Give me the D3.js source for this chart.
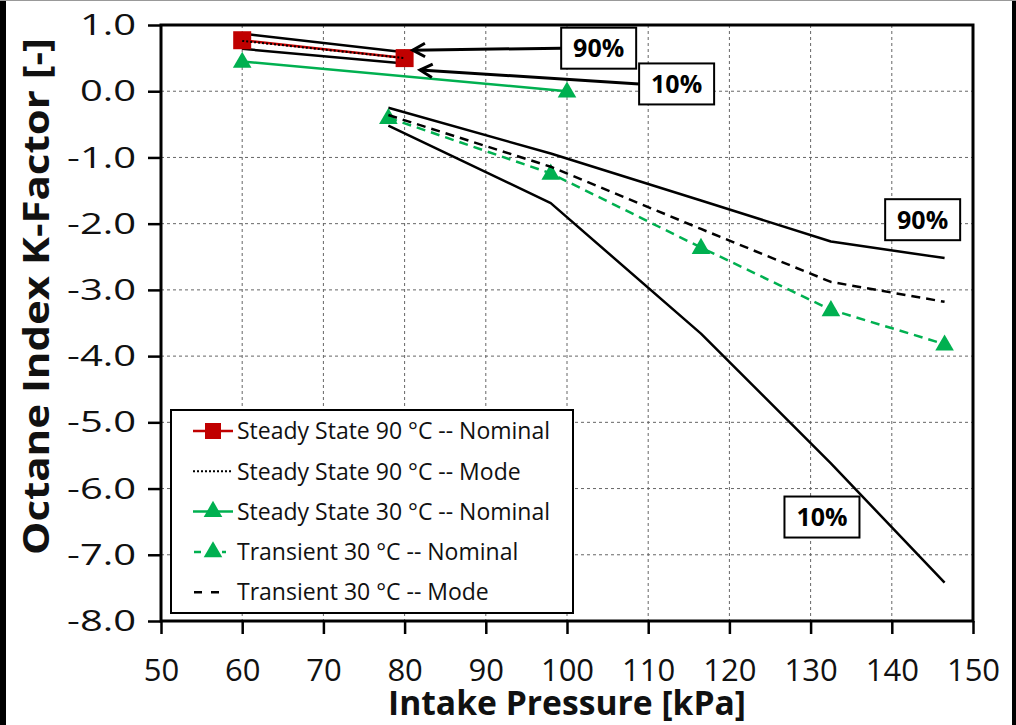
<!DOCTYPE html>
<html><head><meta charset="utf-8">
<script src="https://cdn.jsdelivr.net/npm/d3@7"></script>
<style>body{margin:0;background:#fff;} svg{display:block;}</style>
</head><body><svg id="c" width="1016" height="725"></svg>
<script>
// ---------- data ----------
const xTicks = [50,60,70,80,90,100,110,120,130,140,150];
const yTicks = [1,0,-1,-2,-3,-4,-5,-6,-7,-8];

const ss90Pressure = [60, 80];
const ss90Nominal  = [0.77, 0.50];
const ss90Mode     = [0.76, 0.50];
const ss90P90      = [0.87, 0.59];
const ss90P10      = [0.64, 0.42];

const ss30Pressure = [60, 100];
const ss30Nominal  = [0.45, 0.00];

const trPressure = [78, 98, 116.5, 132.5, 146.5];
const trNominal  = [-0.40, -1.24, -2.36, -3.30, -3.82];
const trMode     = [-0.36, -1.14, -2.08, -2.88, -3.18];
const trP90      = [-0.25, -0.94, -1.65, -2.27, -2.52];
const trP10      = [-0.52, -1.69, -3.66, -5.62, -7.42];

const legendLabels = [
  "Steady State 90 \u00B0C -- Nominal",
  "Steady State 90 \u00B0C -- Mode",
  "Steady State 30 \u00B0C -- Nominal",
  "Transient 30 \u00B0C -- Nominal",
  "Transient 30 \u00B0C -- Mode"
];

const annoLabels = ["90%", "10%", "90%", "10%"];
const annoX      = [103.9, 113.5, 143.8, 131.4];
const annoY      = [0.65, 0.11, -1.94, -6.43];
const arrowTipX  = [81.0, 81.9, null, null];
const arrowTipY  = [0.62, 0.32, null, null];

const xTitle = "Intake Pressure [kPa]";
const yTitle = "Octane Index K-Factor [-]";

// ---------- layout ----------
const RED = "#C00000", GREEN = "#00B050";
const svg = d3.select("#c");
const L = 161, R = 973, T = 25, B = 621;
const x = d3.scaleLinear().domain([50,150]).range([L,R]);
const y = d3.scaleLinear().domain([-8,1]).range([B,T]);

svg.append("rect").attr("width",1016).attr("height",725).attr("fill","#fff");

// grid
const g = svg.append("g");
g.selectAll(".vg").data(xTicks.slice(1,-1)).enter().append("line")
  .attr("x1",d=>x(d)).attr("x2",d=>x(d)).attr("y1",T).attr("y2",B)
  .attr("stroke","#666").attr("stroke-width",1).attr("stroke-dasharray","3,3");
g.selectAll(".hg").data(yTicks.slice(1,-1)).enter().append("line")
  .attr("y1",d=>y(d)).attr("y2",d=>y(d)).attr("x1",L).attr("x2",R)
  .attr("stroke","#666").attr("stroke-width",1).attr("stroke-dasharray","3,3");

// axes
const xAxis = svg.append("g").attr("transform",`translate(0,${B})`)
  .call(d3.axisBottom(x).tickValues(xTicks).tickSize(13).tickPadding(25).tickFormat(d3.format("d")));
xAxis.select(".domain").remove();
xAxis.selectAll("line").attr("stroke","#000").attr("stroke-width",2.5);
xAxis.selectAll("text").attr("font-family","'Open Sans', sans-serif").attr("font-size",31).attr("fill","#111");

const yAxis = svg.append("g").attr("transform",`translate(${L},0)`)
  .call(d3.axisLeft(y).tickValues(yTicks).tickSize(13).tickPadding(12).tickFormat(d3.format(".1f")));
yAxis.select(".domain").remove();
yAxis.selectAll("line").attr("stroke","#000").attr("stroke-width",2.5);
yAxis.selectAll("text").attr("font-family","'Open Sans', sans-serif").attr("font-size",30).attr("fill","#111")
  .text(d=>d3.format(".1f")(d).replace("\u2212","-"))
  .each(function(){ const w=this.getComputedTextLength(); d3.select(this).attr("textLength",w*1.33).attr("lengthAdjust","spacingAndGlyphs"); });

// series helpers
const line = d3.line().x(d=>x(d[0])).y(d=>y(d[1]));
const zip = (a,b)=>a.map((v,i)=>[v,b[i]]);
function drawLine(px, py, color, width, dash){
  svg.append("path").datum(zip(px,py)).attr("d",line).attr("fill","none")
    .attr("stroke",color).attr("stroke-width",width)
    .attr("stroke-dasharray",dash||null).attr("stroke-linejoin","round");
}
const tri = d3.symbol().type(d3.symbolTriangle).size(150);
function drawTriangles(px, py){
  svg.append("g").selectAll("path").data(zip(px,py)).enter().append("path")
    .attr("d",tri).attr("transform",d=>`translate(${x(d[0])},${y(d[1])+1})`).attr("fill",GREEN);
}

// steady state 90
drawLine(ss90Pressure, ss90P90, "#000", 2.5);
drawLine(ss90Pressure, ss90P10, "#000", 2.5);
drawLine(ss90Pressure, ss90Nominal, RED, 2.5);
svg.append("g").selectAll("rect").data(zip(ss90Pressure,ss90Nominal)).enter().append("rect")
  .attr("x",d=>x(d[0])-9).attr("y",d=>y(d[1])-9).attr("width",18).attr("height",18).attr("fill",RED);
drawLine(ss90Pressure, ss90Mode, "#000", 2, "2,2");

// steady state 30
drawLine(ss30Pressure, ss30Nominal, GREEN, 2.5);
drawTriangles(ss30Pressure, ss30Nominal);

// transient
drawLine(trPressure, trP90, "#000", 2.5);
drawLine(trPressure, trP10, "#000", 2.5);
drawLine(trPressure, trNominal, GREEN, 2.5, "9,6");
drawTriangles(trPressure, trNominal);
drawLine(trPressure, trMode, "#000", 2.5, "9,6");

// frame
svg.append("rect").attr("x",L).attr("y",T).attr("width",R-L).attr("height",B-T)
  .attr("fill","none").attr("stroke","#000").attr("stroke-width",3);

// annotations
annoLabels.forEach((lab,i)=>{
  const cx = x(annoX[i]), cy = y(annoY[i]), w = 75, h = 41;
  if (arrowTipX[i] !== null){
    const tx = x(arrowTipX[i]), ty = y(arrowTipY[i]);
    svg.append("line").attr("x1",cx-w/2).attr("y1",cy).attr("x2",tx).attr("y2",ty)
      .attr("stroke","#000").attr("stroke-width",3);
    const ang = Math.atan2(cy-ty, cx-w/2-tx);
    const a1 = ang+0.5, a2 = ang-0.5, len=14;
    svg.append("path").attr("d",`M${tx+len*Math.cos(a1)},${ty+len*Math.sin(a1)}L${tx},${ty}L${tx+len*Math.cos(a2)},${ty+len*Math.sin(a2)}`)
      .attr("fill","none").attr("stroke","#000").attr("stroke-width",3).attr("stroke-linejoin","miter");
  }
  svg.append("rect").attr("x",cx-w/2).attr("y",cy-h/2).attr("width",w).attr("height",h)
    .attr("fill","#fff").attr("stroke","#000").attr("stroke-width",2);
  svg.append("text").attr("x",cx).attr("y",cy).attr("dy","0.36em").attr("text-anchor","middle")
    .attr("font-family","'Open Sans', sans-serif").attr("font-weight","bold").attr("font-size",25)
    .attr("fill","#000").text(lab);
});

// legend
const lg = svg.append("g");
lg.append("rect").attr("x",171).attr("y",410).attr("width",402).attr("height",203)
  .attr("fill","#fff").attr("stroke","#000").attr("stroke-width",2);
const rowY = i => 431 + i*40.3;
legendLabels.forEach((lab,i)=>{
  const yy = rowY(i);
  if (i===0){
    lg.append("line").attr("x1",193).attr("x2",233).attr("y1",yy).attr("y2",yy).attr("stroke",RED).attr("stroke-width",2.5);
    lg.append("rect").attr("x",205).attr("y",yy-8).attr("width",16).attr("height",16).attr("fill",RED);
  } else if (i===1){
    lg.append("line").attr("x1",193).attr("x2",231).attr("y1",yy).attr("y2",yy).attr("stroke","#000").attr("stroke-width",2).attr("stroke-dasharray","2,2");
  } else if (i===2){
    lg.append("line").attr("x1",193).attr("x2",233).attr("y1",yy).attr("y2",yy).attr("stroke",GREEN).attr("stroke-width",2.5);
    lg.append("path").attr("d",tri).attr("transform",`translate(${213},${yy})`).attr("fill",GREEN);
  } else if (i===3){
    lg.append("line").attr("x1",194).attr("x2",226).attr("y1",yy).attr("y2",yy).attr("stroke",GREEN).attr("stroke-width",2.5).attr("stroke-dasharray","7,7");
    lg.append("path").attr("d",tri).attr("transform",`translate(${213},${yy})`).attr("fill",GREEN);
  } else {
    lg.append("line").attr("x1",194).attr("x2",226).attr("y1",yy).attr("y2",yy).attr("stroke","#000").attr("stroke-width",2.5).attr("stroke-dasharray","8,9");
  }
  lg.append("text").attr("x",237).attr("y",yy).attr("dy","0.36em")
    .attr("font-family","'Open Sans', sans-serif").attr("font-size",23).attr("fill","#111").text(lab);
});

// axis titles
svg.append("text").attr("x",(388+746)/2).attr("y",715).attr("text-anchor","middle")
  .attr("font-family","'Open Sans', sans-serif").attr("font-weight","bold").attr("font-size",34)
  .attr("textLength",358).attr("lengthAdjust","spacingAndGlyphs").attr("fill","#111").text(xTitle);
svg.append("text").attr("transform",`translate(49,${(38+555)/2}) rotate(-90)`).attr("text-anchor","middle")
  .attr("font-family","'Open Sans', sans-serif").attr("font-weight","bold").attr("font-size",36)
  .attr("textLength",517).attr("lengthAdjust","spacingAndGlyphs").attr("fill","#111").text(yTitle);

// image edges
svg.append("rect").attr("x",0).attr("y",0).attr("width",6).attr("height",725).attr("fill","#000");
svg.append("rect").attr("x",1012).attr("y",0).attr("width",4).attr("height",725).attr("fill","#000");
svg.append("line").attr("x1",0).attr("x2",1016).attr("y1",0.5).attr("y2",0.5).attr("stroke","#999");
</script></body></html>
